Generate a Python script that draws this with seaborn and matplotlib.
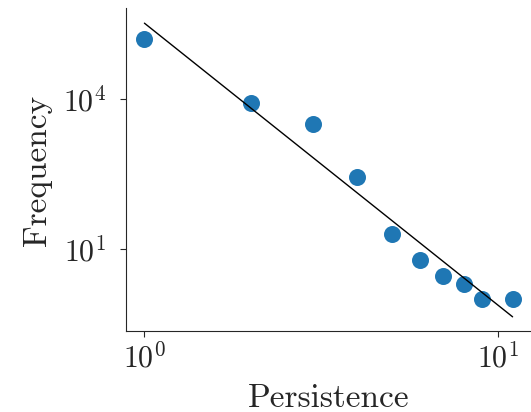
import matplotlib
matplotlib.use('Agg')
import matplotlib.pyplot as plt
import seaborn as sns
import pandas as pd

# persistence vs frequency
persistence = [1, 2, 3, 4, 5, 6, 7, 8, 9, 11]
frequency = [153000, 8100, 3130, 274, 19.6, 5.9, 2.9, 1.97, 1.0, 1.0]

# power-law fit line endpoints
fit_x = [1, 11]
fit_y = [3.2e5, 0.44]

y_ticks = [1e1, 1e4]

sns.set_style('ticks')
plt.rcParams['font.family'] = 'serif'
plt.rcParams['font.serif'] = ['cmr10', 'DejaVu Serif']
plt.rcParams['mathtext.fontset'] = 'cm'
plt.rcParams['axes.formatter.use_mathtext'] = True

df = pd.DataFrame({'Persistence': persistence, 'Frequency': frequency})
fit = pd.DataFrame({'x': fit_x, 'y': fit_y})

fig = plt.figure(figsize=(5.31, 4.12), dpi=100)
ax = fig.add_axes([0.2373, 0.1954, 0.7627, 0.784])

sns.scatterplot(data=df, x='Persistence', y='Frequency', s=150, color='#1f77b4',
                linewidth=0, ax=ax, zorder=2)
sns.lineplot(data=fit, x='x', y='y', color='black', linewidth=1.0, ax=ax, zorder=3)

ax.set_xscale('log')
ax.set_yscale('log')
ax.set_yticks(y_ticks)
ax.minorticks_off()
ax.set_xlabel('Persistence', fontsize=24, labelpad=8)
ax.set_ylabel('Frequency', fontsize=24, labelpad=8)
ax.tick_params(labelsize=21.5, length=4.5)
ax.tick_params(axis='y', pad=10)
ax.tick_params(axis='x', pad=3)
sns.despine(ax=ax)

plt.savefig('out.png', dpi=100)
